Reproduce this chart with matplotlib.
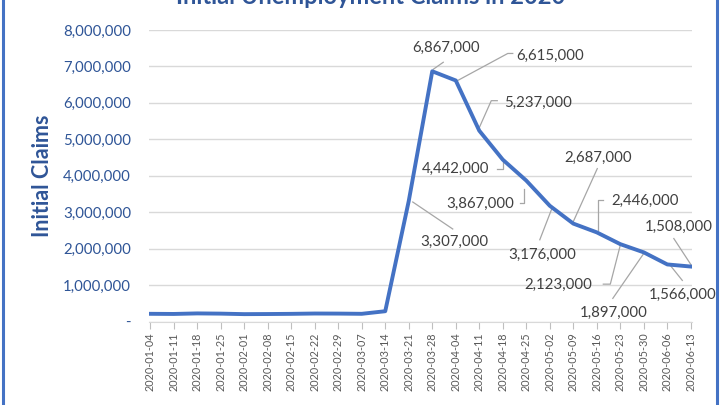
import matplotlib.pyplot as plt
from matplotlib.lines import Line2D
from matplotlib.ticker import FuncFormatter

# weekly initial claims, 2020
dates = [
    "2020-01-04", "2020-01-11", "2020-01-18", "2020-01-25", "2020-02-01",
    "2020-02-08", "2020-02-15", "2020-02-22", "2020-02-29", "2020-03-07",
    "2020-03-14", "2020-03-21", "2020-03-28", "2020-04-04", "2020-04-11",
    "2020-04-18", "2020-04-25", "2020-05-02", "2020-05-09", "2020-05-16",
    "2020-05-23", "2020-05-30", "2020-06-06", "2020-06-13",
]
claims = [
    211000, 207000, 222000, 216000, 202000, 205000, 210000, 219000,
    217000, 211000, 282000, 3307000, 6867000, 6615000, 5237000, 4442000,
    3867000, 3176000, 2687000, 2446000, 2123000, 1897000, 1566000, 1508000,
]
y_ticks = [0, 1000000, 2000000, 3000000, 4000000, 5000000, 6000000, 7000000, 8000000]

# label placement in pixels relative to the point: text offset, leader polyline
label_pos = {
    11: ((46, -41), [(4, -1), (44, -28)]),
    12: ((14, 23), [(1, 2), (11, 9)]),
    13: ((94, 25), [(2, 0), (52, 27), (57, 27)]),
    14: ((59, 28), [(0, 3), (12, 30), (18, 30)]),
    15: ((-47, -9), [(-6, -9), (0, -9), (0, -2)]),
    16: ((-46, -23), [(-6, -22), (-2, -22), (-2, -8)]),
    17: ((-8, -49), [(-10, -34), (2, -3)]),
    18: ((25, 66), [(0, 2), (24, 55)]),
    19: ((48, 31), [(1, 2), (1, 32), (6, 32)]),
    20: ((-62, -41), [(-17, -40), (-10, -40), (0, -1)]),
    21: ((-30, -61), [(0, -1), (-31, -46)]),
    22: ((15, -30), [(3, -1), (15, -16)]),
    23: ((-12, 40), [(2, -1), (-17, 28)]),
}

FONT = "Lato"
BLUE = "#4472C4"
DARK = "#2F5597"
plt.rcParams["font.family"] = [FONT, "DejaVu Sans"]

fig = plt.figure(figsize=(7.2, 4.05), dpi=100)
ax = fig.add_axes([149 / 720, 1 - 321.5 / 405, (692 - 149) / 720, (321.5 - 30) / 405])

x = list(range(len(dates)))
ax.plot(x, claims, color=BLUE, lw=2.8, solid_joinstyle="round", zorder=3)

ax.set_xlim(-0.05, len(dates) - 0.95)
ax.set_ylim(0, 8000000)
ax.set_yticks(y_ticks)
ax.yaxis.set_major_formatter(FuncFormatter(lambda v, p: "-" if v == 0 else f"{int(v):,}"))
ax.grid(axis="y", color="#D9D9D9", lw=1)
ax.set_axisbelow(True)
ax.set_xticks(x)
ax.set_xticklabels(dates, rotation=90, fontsize=7.8, color="#595959")
ax.tick_params(axis="x", length=5, color="#BFBFBF", pad=3)
ax.tick_params(axis="y", length=0, pad=13, labelsize=10.8, labelcolor=DARK)
for s in ["top", "right", "left"]:
    ax.spines[s].set_visible(False)
ax.spines["bottom"].set_color("#D9D9D9")
ax.set_ylabel("Initial Claims", fontsize=15.5, fontweight="bold", color=DARK)
ax.yaxis.set_label_coords(-(149 - 53) / 543, 0.5)

fig.text(371 / 720, 1 - 4 / 405, "Initial Unemployment Claims in 2020",
         ha="center", va="baseline", fontsize=17, fontweight="bold", color=DARK)

# data labels with leader lines, drawn in display pixels
fig.canvas.draw()
for i, (toff, leader) in label_pos.items():
    px, py = ax.transData.transform((x[i], claims[i]))
    ax.text(px + toff[0], py + toff[1], f"{claims[i]:,}", transform=None,
            ha="center", va="center", fontsize=10.8, color="#404040", zorder=4)
    ax.add_line(Line2D([px + d[0] for d in leader], [py + d[1] for d in leader],
                       transform=None, color="#A6A6A6", lw=0.9, zorder=2))

# chart frame edges
fig.add_artist(Line2D([3 / 720, 3 / 720], [0, 1], color=BLUE, lw=2.2))
fig.add_artist(Line2D([717 / 720, 717 / 720], [0, 1], color=BLUE, lw=2.2))

fig.savefig("out.png", dpi=100)
